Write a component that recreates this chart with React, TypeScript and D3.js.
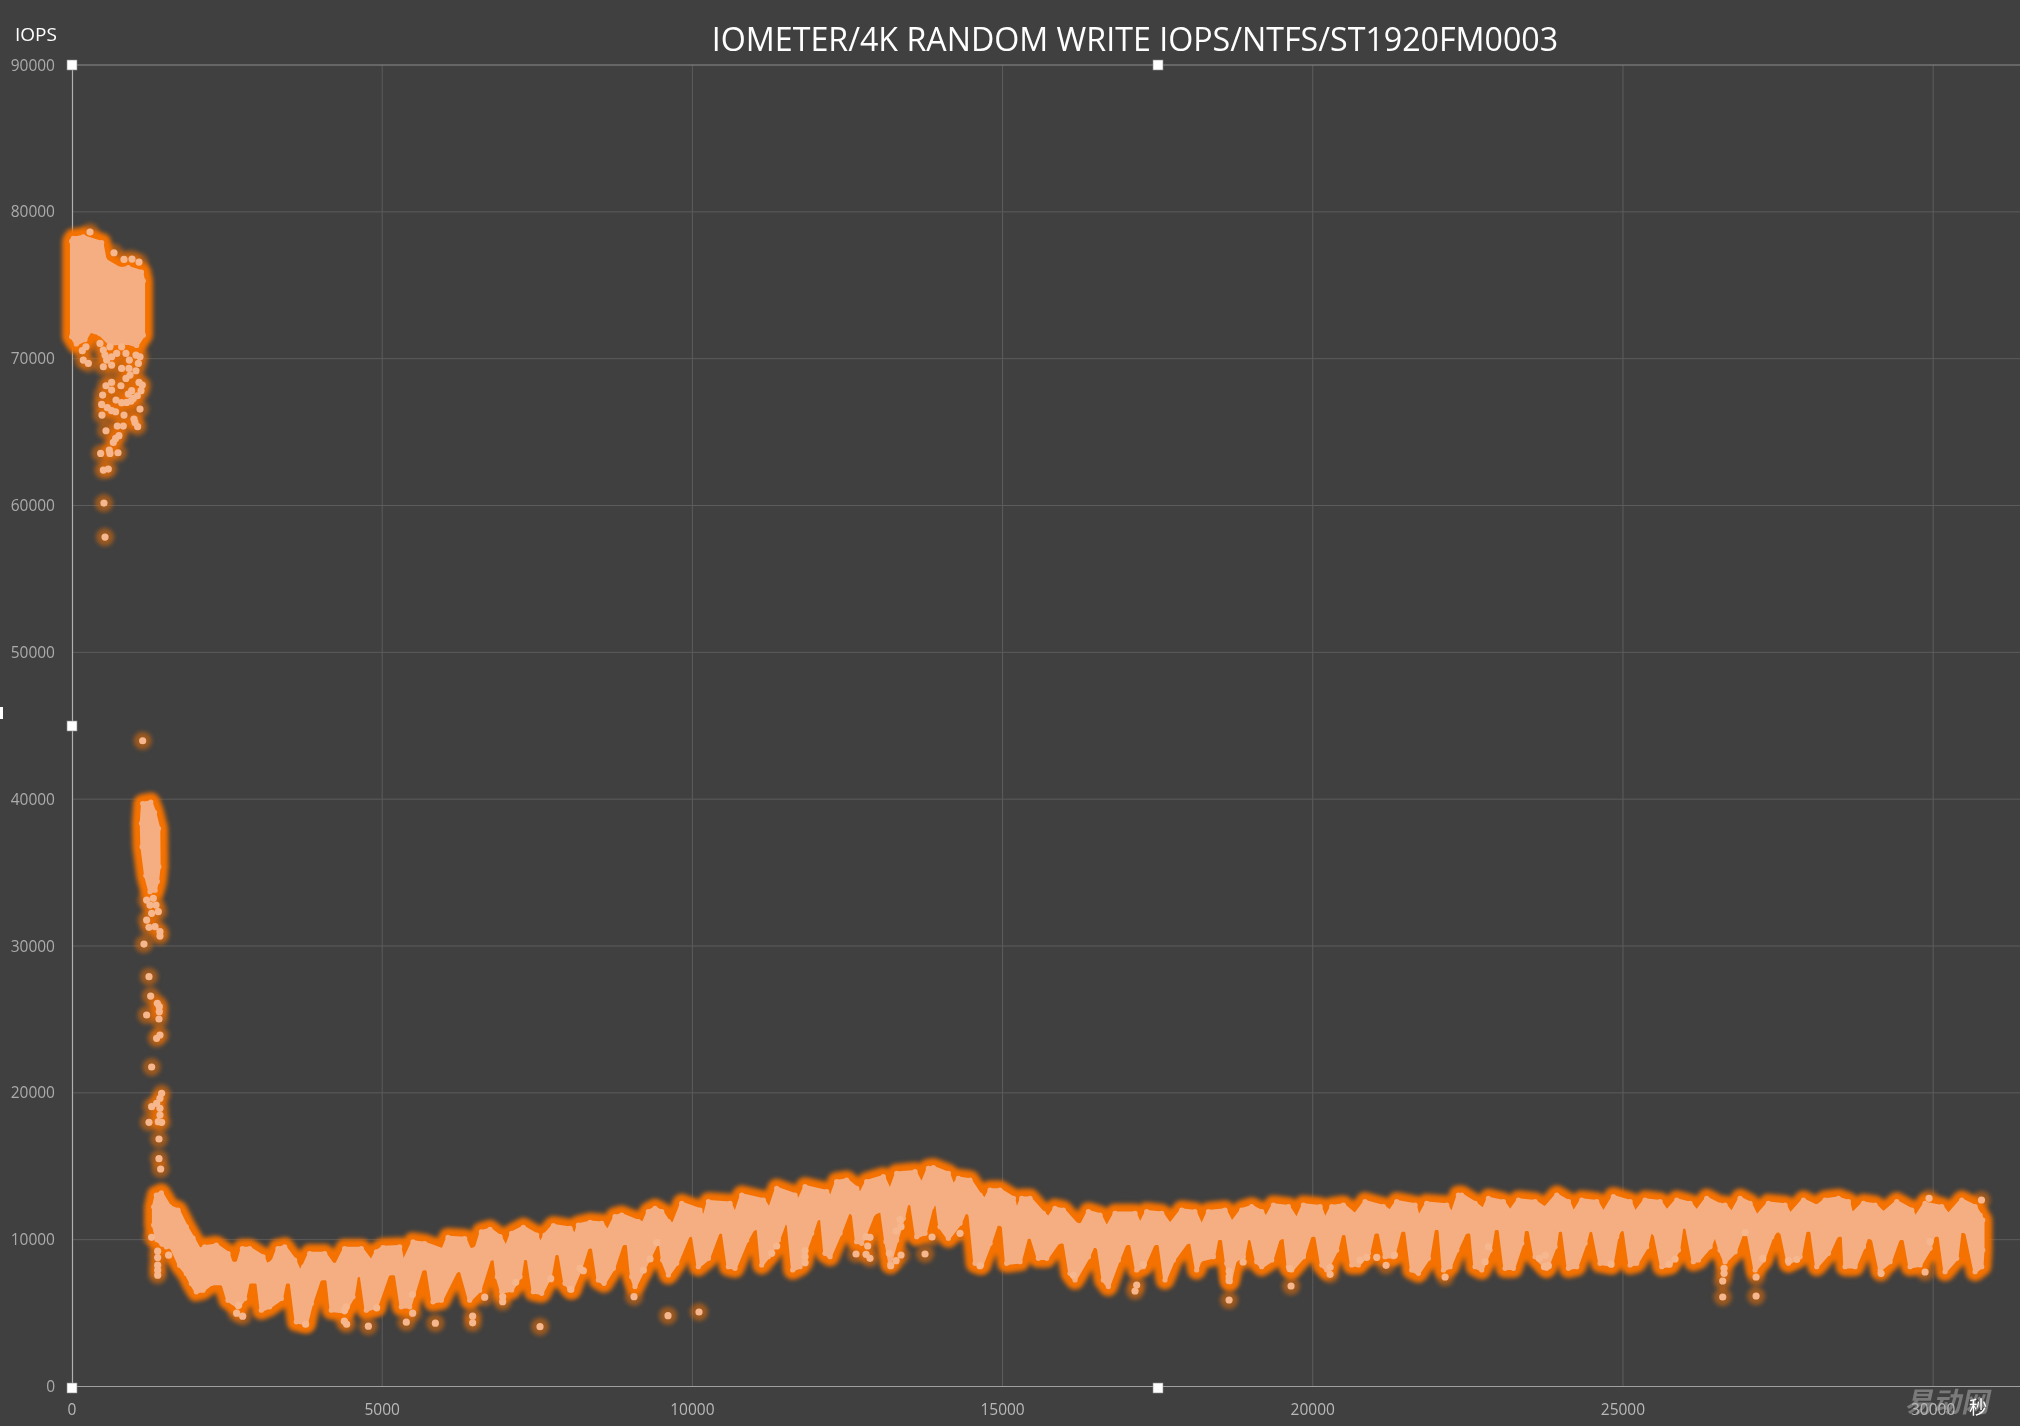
import React from "react";
import * as d3 from "d3";

const TITLE = "IOMETER/4K RANDOM WRITE IOPS/NTFS/ST1920FM0003";
const xTicks = [0, 5000, 10000, 15000, 20000, 25000, 30000];
const yTicks = [0, 10000, 20000, 30000, 40000, 50000, 60000, 70000, 80000, 90000];

// Pre-fill burst: upper and lower edge of the solid cloud [seconds, IOPS]
const burstTop = [[-5,78000],[21,78200],[182,78300],[478,77900],[532,76700],[773,76100],[907,76200],[1120,75900],[1150,75300]];
const burstBottom = [[-5,71500],[70,71000],[209,71300],[290,71900],[451,71700],[612,71000],[881,71100],[1042,70900],[1150,71600]];

// Transition cloud near 40000 IOPS, closed outline
const transitionOutline = [[1140,39700],[1270,39800],[1330,39100],[1395,38000],[1400,35400],[1375,34400],[1340,33800],[1257,33700],[1190,34800],[1130,36763],[1120,38352]];

// Steady-state band: upper edge
const bandTop = [
[1316,12235],[1359,13030],[1440,13190],[1574,12235],[1709,12010],[1843,10870],[1950,10100],[2058,9284],[2138,9510],[2326,9625],[2515,9057],[2568,8376],[2676,8376],[2746,9400],[2864,9400],[3079,8830],[3132,8263],[3240,8490],[3320,9400],[3428,9510],[3589,8603],[3670,7809],[3734,8150],[3831,9057],[4073,9057],[4207,8263],[4261,8263],[4395,9400],[4664,9400],[4825,8490],[4906,9170],[5013,9466],[5282,9510],[5335,8376],[5497,9850],[5684,9740],[5980,9284],[6061,10150],[6330,10080],[6410,9284],[6517,9400],[6598,10530],[6738,10703],
[6899,10204],[6996,9410],[7087,10431],[7275,10840],[7490,10318],[7544,9636],[7625,10318],[7759,10953],[8028,10771],[8108,10204],[8162,10998],[8350,11180],[8538,11112],[8635,10545],[8753,11566],[8860,11680],[9129,11225],[9210,11112],[9290,11906],[9398,12134],
[9505,11906],[9613,11225],[9693,11000],[9828,12474],[10123,12020],[10177,11339],[10258,12587],[10607,12474],[10687,11680],[10795,13041],[11144,12701],[11241,12020],[11359,13496],[11654,13041],[11708,12587],[11816,13609],[12165,13269],[12229,12814],[12326,13950],[12487,14063],[12648,13496],[12702,13041],[12810,13950],[13078,14290],[13186,13269],[13293,14517],[13589,14630],
[13696,13722],[13804,14857],[13884,14900],[14126,14517],[14206,13609],[14287,14176],[14475,14063],[14636,13041],[14717,12701],[14798,13382],[14959,13382],[15174,12815],[15228,11907],[15308,12815],[15442,12815],[15657,11793],[15738,11452],[15845,12133],[15980,12020],[16195,10998],[16275,10998],[16383,11907],[16571,11679],[16678,10771],[16813,11793],[17135,11793],[17216,10998],[17323,11907],[17565,11793],[17699,10998],[17887,12020],[18100,11907],
[18210,10884],[18318,11905],[18586,12019],[18694,11111],[18855,12019],[19016,12246],[19177,11905],[19247,11451],[19365,12360],[19607,12246],[19742,11338],[19849,12360],[20118,12246],[20198,11338],[20306,12246],[20494,12360],[20682,11678],[20843,12586],[21138,12246],[21246,11905],[21353,12586],[21649,12360],[21703,11451],[21837,12473],[22159,12360],[22240,11678],[22347,13040],
[22401,13040],[22616,12473],[22750,12019],[22831,12814],[23073,12586],[23180,11905],[23315,12700],[23583,12586],[23744,12133],[23933,13040],[24121,12586],[24201,11792],[24336,12700],[24577,12586],[24685,11792],[24846,12927],[25115,12586],[25195,11792],[25356,12700],[25598,12586],[25706,11905],[25867,12700],[26082,12473],[26189,11905],[26350,12814],[26565,12360],
[26646,12360],[26753,11792],[26888,12814],[27049,12473],[27156,11565],[27344,12473],[27613,12360],[27694,11678],[27909,12700],[28124,12246],[28258,12700],[28473,12814],[28634,12586],[28688,11678],[28876,12473],[29064,12360],[29198,11792],[29413,12586],[29655,12019],[29709,11451],[29870,12473],[30139,12246],[30246,11678],[30461,12700],[30676,12246],[30756,11678],[30800,11338]];

// Steady-state band: lower edge
const bandBottom = [
[1316,11000],[1370,10000],[1450,9700],[1520,9510],[1601,9510],[1735,8263],[1843,7695],[1924,7014],[2004,6447],[2112,6560],[2246,7014],[2434,7014],[2515,5880],[2676,5425],[2783,5993],[2837,7128],[2998,7128],[3052,5198],[3186,5425],[3374,5993],[3428,7128],[3535,7128],[3616,4404],[3777,4290],[3858,5652],[3992,7355],[4126,7355],[4180,5198],[4395,5085],[4529,6106],[4583,7582],[4664,7582],[4744,5198],[4906,5425],[5094,7695],[5228,7695],[5308,5425],[5443,5425],[5631,8036],[5738,8036],[5819,5766],[5953,5880],[6195,7922],[6276,7922],[6410,5880],[6571,6560],[6732,8717],[6819,8729],
[6856,7480],[6926,6458],[7087,6572],[7222,7480],[7265,8729],[7356,8729],[7437,6458],[7571,6345],[7705,7480],[7770,9069],[7866,9069],[7947,7026],[8055,6572],[8189,7934],[8307,9523],[8404,9523],[8484,7253],[8576,7026],[8726,8047],[8860,9750],[8968,9750],[9022,7480],[9075,6799],[9210,7934],[9317,8842],[9425,9750],
[9478,9977],[9521,8615],[9613,7594],[9747,8388],[9935,10317],[10016,10317],[10096,8161],[10258,8729],[10419,10544],[10499,10544],[10580,8161],[10687,8047],[10875,9977],[10983,10771],[11063,10771],[11117,8274],[11224,8842],[11385,9977],[11493,11225],[11547,11112],[11617,7934],[11735,8161],[11923,10431],[12004,11452],[12084,11452],[12138,9069],[12219,8842],[12380,10431],[12514,11906],[12595,11793],[12648,9863],[12729,9750],[12917,11793],[13051,12020],[13121,9863],[13186,8388],[13293,9977],[13400,11452],[13454,12474],[13535,12474],
[13616,10204],[13750,10431],[13857,12247],[13938,12587],[13992,10885],[14126,10090],[14314,11112],[14395,11907],[14475,11793],[14556,8388],[14663,8274],[14798,9750],[14905,11112],[15013,10998],[15066,8388],[15281,8501],[15389,10204],[15469,10204],[15577,8728],[15711,8728],[15899,9863],[16006,9863],[16087,7707],[16168,7253],[16383,8842],[16463,9636],[16544,9523],[16624,7253],[16705,6799],[16866,8615],[16974,9750],[17081,9750],[17162,7934],[17270,8161],[17431,9750],[17538,9750],[17618,7253],[17753,8615],[17968,9863],[18048,9863],[18129,7934],
[18183,8614],[18398,8841],[18452,10090],[18560,10090],[18613,8387],[18667,7138],[18748,8614],[18882,8841],[18936,10090],[19016,10090],[19097,8500],[19177,8160],[19339,8614],[19446,10090],[19554,10203],[19607,8160],[19661,7933],[19849,8841],[19957,10316],[20064,10316],[20145,8273],[20225,7933],[20386,9295],[20451,10430],[20548,10430],[20628,8273],[20736,8273],[20897,9068],[20977,10543],[21085,10543],[21165,8841],[21300,8841],[21407,10657],[21515,10657],[21595,7933],[21703,7706],[21864,8727],[21944,10770],[22052,10770],[22106,7933],[22213,8160],[22321,9295],
[22455,10543],[22562,10543],[22616,8160],[22724,7933],[22858,9295],[22912,10770],[23019,10770],[23100,8046],[23234,8046],[23368,9749],[23395,10702],[23503,10702],[23583,8841],[23771,8046],[23906,9522],[23943,10657],[24040,10657],[24121,8046],[24255,8160],[24389,9749],[24443,10657],[24524,10657],[24631,8387],[24819,8273],[24900,10203],[24953,10702],[25034,10702],[25115,8273],[25222,8387],[25383,9522],[25437,10543],[25518,10430],[25625,8160],[25759,8273],[25894,9295],[25947,10884],[26028,10884],[26135,8500],[26216,8614],[26404,9522],[26485,10430],[26565,9295],
[26646,8500],[26807,9181],[26915,10430],[27022,10430],[27130,7933],[27264,8614],[27398,10203],[27479,10657],[27559,10543],[27667,8387],[27855,8841],[27935,10657],[28043,10657],[28124,8160],[28312,9068],[28446,10316],[28553,10316],[28580,8160],[28741,8160],[28876,9522],[28930,10203],[29037,10090],[29144,7933],[29306,8500],[29440,10090],[29547,10090],[29628,8160],[29789,8273],[29950,9408],[30004,10316],[30112,10316],[30192,7820],[30380,8727],[30434,10657],[30541,10543],[30676,7820],[30783,8160],[30800,9295]];

// Individually visible samples
const burstSamples = [[290,78622],[677,77214],[838,76760],[967,76783],[1080,76579],[225,70813],[166,70541],[182,69905],[263,69678],[451,71040],[505,70586],[612,70813],[532,70246],[639,70132],[720,70359],[505,69451],[558,69905],[639,69565],[800,70813],[870,70359],[924,69905],[1031,70246],[1096,70132],[1069,69678],[918,69338],[800,69338],[1031,69178],[935,68884],[870,68657],[548,68157],[639,68384],[789,68157],[1080,68384],[1133,68203],[639,67862],[494,67521],[1112,67817],[961,67817],[908,67590],[1053,67476],[988,67295],[709,67181],[800,67000],[881,67022],[951,67113],[478,66886],[569,66659],[639,66455],[703,66386],[483,66160],[838,66160],[1096,66568],[999,65887],[1015,65660],[1058,65365],[730,65410],[827,65410],[548,65092],[757,64752],[703,64570],[666,64298],[601,63776],[462,63549],[612,63549],[741,63594],[505,62414],[585,62482],[515,60167],[532,57851]];
const transitionSamples = [[1139,43980],[1203,33131],[1257,32790],[1311,33245],[1354,32790],[1284,32223],[1391,32337],[1203,31769],[1241,31270],[1338,31315],[1418,30975],[1418,30679],[1160,30134],[1241,27910],[1268,26593],[1375,26094],[1407,25867],[1407,25526],[1203,25300],[1402,25027],[1418,23938],[1364,23710],[1284,21758],[1445,19965],[1418,19624],[1284,19057],[1364,19284],[1418,18943],[1418,18490],[1241,17990],[1391,18036],[1445,17990],[1402,16855],[1402,15516],[1429,14812],[1284,10159],[1381,9216],[1381,8785],[1381,8263],[1381,7922],[1381,7582],[1558,8944]];
const steadySamples = [[2686,5539],[2654,4994],[2751,4790],[3766,4245],[4395,5198],[4422,5425],[4390,4449],[4427,4245],[4777,4109],[4911,5357],[5491,4994],[5389,4381],[5486,6265],[5857,4313],[6458,4790],[6458,4336],[6652,6084],[6942,5777],[6942,6118],[7152,7094],[7544,4075],[7716,7344],[8038,6617],[8189,8047],[8242,7888],[9059,6118],[9317,8683],[9425,9795],[9607,4824],[10107,5074],[9210,7934],[12638,9024],[12799,10204],[12863,10159],[12826,9568],[12799,9001],[12863,8728],[13175,9069],[13197,8229],[13283,8570],[13363,8955],[13363,10885],[13283,10590],[13347,11384],[11816,9250],[11816,8842],[11816,8433],[11278,9069],[11359,9568],[13750,9024],[13863,10181],[14314,10431],[14636,8229],[17162,6912],[17135,6504],[16141,7593],[17270,8320],[18651,7865],[18651,7479],[18651,7207],[18651,5890],[18877,8478],[19650,6843],[19634,8024],[20279,8115],[20279,7638],[21182,8251],[21316,8954],[21031,8796],[20870,8796],[20762,8614],[22133,7456],[22777,8500],[22831,9522],[23653,8727],[23750,8932],[23798,8228],[23734,8160],[25840,8682],[25743,8341],[24808,8341],[26630,8046],[26630,7706],[26608,7184],[26608,6094],[26968,10475],[27146,7456],[27146,6162],[29161,7706],[29870,7797],[29934,12814],[29950,9862],[30779,12700],[27253,8727],[27667,8568],[27802,8659]];

const W = 2020, H = 1426;
const BG = "#404040", ORANGE = "#F57200", LIGHT = "#F4AE82";
const FONT = "'Open Sans','Noto Sans',sans-serif";
const handles: [number, number][] = [[72, 65], [1158, 65], [72, 726], [72, 1388], [1158, 1388]];

export default function App() {
  const x = d3.scaleLinear().domain([0, 31400]).range([72, 2020]);
  const y = d3.scaleLinear().domain([0, 90000]).range([1386.5, 65]);
  const line = d3.line<number[]>().x((d) => x(d[0])).y((d) => y(d[1]));
  const close = (a: number[][], b: number[][]) => line([...a, ...[...b].reverse()]) + "Z";
  const shapes = [
    close(burstTop, burstBottom),
    line(transitionOutline) + "Z",
    close(bandTop, bandBottom),
  ];
  const edges = [...burstTop, ...burstBottom, ...transitionOutline, ...bandTop, ...bandBottom];
  const samples = [...burstSamples, ...transitionSamples, ...steadySamples];
  return (
    <svg width={W} height={H} viewBox={`0 0 ${W} ${H}`}
      style={{ position: "fixed", left: 0, top: 0, display: "block", background: BG }}>
      <defs>
        <filter id="glowBand" x="-5%" y="-5%" width="110%" height="110%" colorInterpolationFilters="sRGB">
          <feGaussianBlur stdDeviation="2" />
        </filter>
        <filter id="glowDots" x="-5%" y="-5%" width="110%" height="110%" colorInterpolationFilters="sRGB">
          <feGaussianBlur stdDeviation="2" />
        </filter>
      </defs>
      <rect width={W} height={H} fill={BG} />
      {xTicks.slice(1).map((t) => (
        <line key={t} x1={x(t)} x2={x(t)} y1={65} y2={1386.5} stroke="#5c5c5c" strokeWidth={1} />
      ))}
      {yTicks.slice(1, -1).map((t) => (
        <line key={t} x1={72} x2={W} y1={y(t)} y2={y(t)} stroke="#5c5c5c" strokeWidth={1} />
      ))}
      <line x1={72} x2={W} y1={65} y2={65} stroke="#8c8c8c" strokeWidth={1} />
      <line x1={72} x2={W} y1={1386.5} y2={1386.5} stroke="#a0a0a0" strokeWidth={1} />
      <line x1={72.5} x2={72.5} y1={65} y2={1386.5} stroke="#b0b0b0" strokeWidth={1.2} />

      <g filter="url(#glowDots)">
        {samples.map((d, i) => (
          <circle key={i} cx={x(d[0])} cy={y(d[1])} r={9} fill={ORANGE} opacity={0.5} />
        ))}
      </g>
      <g filter="url(#glowBand)">
        {shapes.map((d, i) => (
          <path key={i} d={d} fill={ORANGE} stroke={ORANGE} strokeWidth={19} strokeLinejoin="round" />
        ))}
      </g>
      {shapes.map((d, i) => (
        <path key={i} d={d} fill={LIGHT} stroke={LIGHT} strokeWidth={3.5} strokeLinejoin="round" />
      ))}
      {edges.map((d, i) => (
        <circle key={i} cx={x(d[0])} cy={y(d[1])} r={2.6} fill={LIGHT} />
      ))}
      {samples.map((d, i) => (
        <circle key={i} cx={x(d[0])} cy={y(d[1])} r={3.6} fill="#F6B78E" />
      ))}

      <text x={1135} y={51} textAnchor="middle" fontFamily={FONT} fontSize={32.2} fill="#fff">{TITLE}</text>
      <text x={15} y={41} fontFamily={FONT} fontSize={19} fill="#fff">IOPS</text>
      {yTicks.map((t) => (
        <text key={t} x={55} y={y(t) + 5.5} textAnchor="end" fontFamily={FONT} fontSize={15.5} fill="#ababab">{t}</text>
      ))}
      <text transform="translate(1947,1412) skewX(-12)" textAnchor="middle"
        fontFamily="'Noto Sans CJK SC'" fontWeight={700} fontSize={28} fill="#7a7a7a">易动网</text>
      {xTicks.map((t) => (
        <text key={t} x={x(t)} y={1415} textAnchor="middle" fontFamily={FONT} fontSize={15.5} fill="#b8b8b8">{t}</text>
      ))}
      <text x={1978} y={1414} textAnchor="middle" fontFamily="'Noto Sans CJK SC'" fontSize={18} fill="#fff">秒</text>

      {handles.map(([hx, hy], i) => (
        <rect key={i} x={hx - 5} y={hy - 5} width={10} height={10} fill="#fff" stroke="#8a8a8a" strokeWidth={0.6} />
      ))}
      <rect x={0} y={707} width={3} height={12} fill="#fff" />
    </svg>
  );
}
